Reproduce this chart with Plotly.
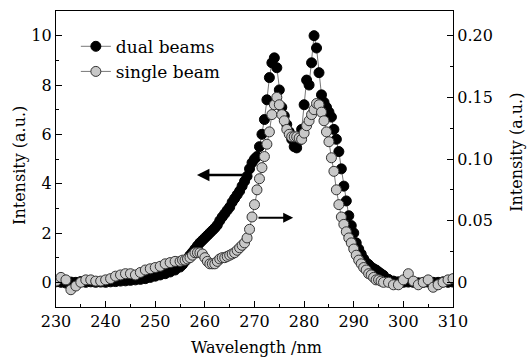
import plotly.graph_objects as go

wavelength = [230, 231, 232, 233, 234, 235, 236, 237, 238, 239, 240, 241, 242, 243, 244, 245,
              246, 247, 248, 249, 250, 251, 252, 253, 254, 255,
              255.5, 256, 256.5, 257, 257.5, 258, 258.5, 259, 259.5, 260, 260.5, 261, 261.5,
              262, 262.5, 263, 263.5, 264, 264.5, 265, 265.5, 266, 266.5, 267, 267.5, 268,
              268.5, 269, 269.5, 270, 270.5, 271, 271.5, 272, 272.5, 273, 273.5, 274, 274.5,
              275, 275.5, 276, 276.5, 277, 277.5, 278, 278.5, 279, 279.5, 280, 280.5, 281,
              281.5, 282, 282.5, 283, 283.5, 284, 284.5, 285, 285.5, 286, 286.5, 287, 287.5,
              288, 288.5, 289, 289.5, 290, 290.5, 291, 291.5, 292, 292.5, 293, 293.5, 294,
              294.5, 295, 295.5, 296,
              297, 298, 299, 300, 301, 302, 303, 304, 305, 306, 307, 308, 309, 310]

dual_beams = [0.02, 0.0, -0.03, 0.01, 0.0, 0.03, 0.0, 0.02, 0.0, 0.01, 0.0, 0.02, 0.03, 0.05, 0.06, 0.08,
              0.1, 0.12, 0.15, 0.2, 0.25, 0.3, 0.35, 0.42, 0.5, 0.62,
              0.72, 0.85, 0.97, 1.1, 1.22, 1.35, 1.48, 1.6, 1.7, 1.8, 1.9, 2.0, 2.1,
              2.2, 2.32, 2.5, 2.65, 2.78, 2.92, 3.05, 3.25, 3.4, 3.55, 3.7, 3.9, 4.1,
              4.3, 4.6, 4.85, 5.0, 5.1, 5.5, 6.0, 6.6, 7.4, 8.3, 8.9, 9.1, 8.7,
              7.8, 7.1, 6.75, 6.4, 6.1, 5.8, 5.5, 5.45, 5.75, 6.2, 7.2, 8.2, 8.0,
              8.9, 10.0, 9.5, 8.5, 7.6, 7.3, 7.1, 6.9, 6.7, 6.2, 5.8, 5.3, 4.6,
              3.9, 3.3, 2.7, 2.3, 2.0, 1.6, 1.35, 1.15, 0.95, 0.8, 0.72, 0.62, 0.55,
              0.5, 0.42, 0.35, 0.28,
              0.12, 0.05, 0.02, 0.0, 0.01, 0.0, -0.02, 0.0, 0.01, 0.0, 0.0, 0.02, 0.0, 0.01]

single_beam = [0.001, 0.004, 0.002, -0.006, -0.003, 0.0, 0.002, 0.002, 0.001, 0.001, 0.002, 0.003,
               0.005, 0.006, 0.007, 0.007, 0.006, 0.008, 0.010, 0.011, 0.012, 0.013, 0.015, 0.016,
               0.017, 0.017,
               0.018, 0.018, 0.019, 0.020, 0.022, 0.024, 0.024, 0.024, 0.023, 0.020, 0.017, 0.015, 0.015,
               0.015, 0.017, 0.019, 0.020, 0.020, 0.021, 0.022, 0.023, 0.024, 0.026, 0.028, 0.030, 0.032,
               0.036, 0.043, 0.053, 0.063, 0.075, 0.084, 0.093, 0.102, 0.112, 0.122, 0.136, 0.144, 0.150,
               0.144, 0.136, 0.131, 0.124, 0.120, 0.118, 0.118, 0.118, 0.117, 0.116, 0.121, 0.127, 0.131,
               0.136, 0.140, 0.145, 0.144, 0.138, 0.131, 0.122, 0.114, 0.101, 0.090, 0.075, 0.063, 0.053,
               0.047, 0.041, 0.036, 0.032, 0.027, 0.022, 0.018, 0.015, 0.012, 0.010, 0.007, 0.006, 0.004,
               0.002, 0.002, 0.001, 0.0,
               0.0, -0.002, -0.002, 0.002, 0.007, 0.001, -0.002, 0.0, 0.002, -0.004, -0.002, 0.0, 0.002, 0.003]

left_ticks = [0, 2, 4, 6, 8, 10]
right_ticks = [0, 0.05, 0.10, 0.15, 0.20]
right_labels = ["0", "0.05", "0.10", "0.15", "0.20"]

FONT = "DejaVu Serif"

fig = go.Figure()
fig.add_trace(go.Scatter(
    x=wavelength, y=dual_beams, name="dual beams", mode="lines+markers",
    line=dict(color="#555555", width=0.8),
    marker=dict(symbol="circle", size=10, color="black", line=dict(color="black", width=1)),
    yaxis="y"))
fig.add_trace(go.Scatter(
    x=wavelength, y=single_beam, name="single beam", mode="lines+markers",
    line=dict(color="#555555", width=0.8),
    marker=dict(symbol="circle", size=10, color="#c8c8c8", line=dict(color="#333333", width=1)),
    yaxis="y2"))

axis_common = dict(showline=True, linecolor="black", linewidth=1.2, showgrid=False,
                   zeroline=False, ticks="inside", tickcolor="black", tickwidth=1.2,
                   tickfont=dict(family=FONT, size=16, color="black"))

fig.update_layout(
    width=531, height=360,
    margin=dict(l=56, r=78, t=11, b=53),
    paper_bgcolor="white", plot_bgcolor="white",
    font=dict(family=FONT, color="black"),
    showlegend=True,
    legend=dict(x=0.05, y=0.94, xanchor="left", yanchor="top",
                bgcolor="rgba(0,0,0,0)", font=dict(family=FONT, size=17, color="black"),
                itemsizing="trace"),
    xaxis=dict(range=[230, 310], dtick=10, tick0=230, ticklen=6, mirror=True,
               minor=dict(dtick=5, ticklen=3, ticks="inside", tickcolor="black", tickwidth=1.2),
               **axis_common),
    yaxis=dict(range=[-1, 11], tickvals=left_ticks, ticklen=6,
               minor=dict(dtick=1, ticklen=3, ticks="inside", tickcolor="black", tickwidth=1.2),
               **axis_common),
    yaxis2=dict(range=[-0.02, 0.22], tickvals=right_ticks, ticktext=right_labels,
                overlaying="y", side="right", ticklen=6,
                minor=dict(dtick=0.025, tick0=0, ticklen=3, ticks="inside", tickcolor="black", tickwidth=1.2),
                **axis_common),
    annotations=[
        dict(text="Intensity (a.u.)", xref="paper", yref="paper", x=-0.0907, y=0.48,
             xanchor="center", yanchor="middle",
             textangle=-90, showarrow=False, font=dict(family=FONT, size=16)),
        dict(text="Intensity (a.u.)", xref="paper", yref="paper", x=1.161, y=0.524,
             xanchor="center", yanchor="middle",
             textangle=-90, showarrow=False, font=dict(family=FONT, size=16)),
        dict(text="Wavelength /nm", xref="paper", yref="paper", x=0.504, y=-0.138,
             xanchor="center", yanchor="middle",
             showarrow=False, font=dict(family=FONT, size=16)),
        dict(x=258.4, y=4.35, xref="x", yref="y", ax=267.9, ay=4.35, axref="x", ayref="y",
             showarrow=True, arrowhead=2, arrowsize=1, arrowwidth=2.5, arrowcolor="black", text=""),
        dict(x=277.8, y=2.62, xref="x", yref="y", ax=270.5, ay=2.62, axref="x", ayref="y",
             showarrow=True, arrowhead=2, arrowsize=1, arrowwidth=2.0, arrowcolor="black", text=""),
    ],
)

fig.write_html("out.html")
